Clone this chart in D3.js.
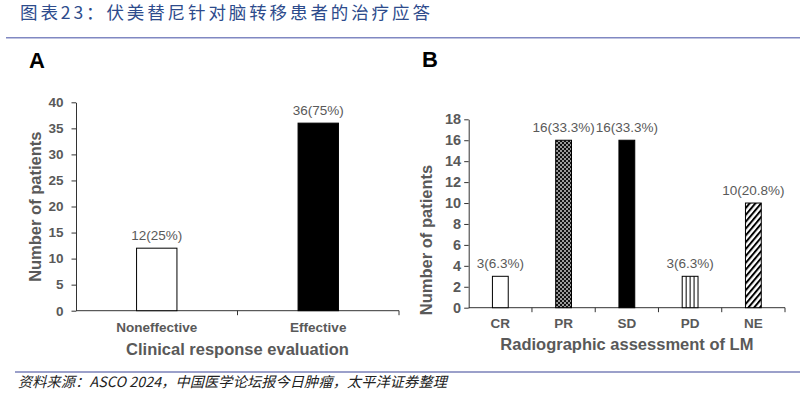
<!DOCTYPE html>
<html>
<head>
<meta charset="utf-8">
<script src="https://cdn.jsdelivr.net/npm/d3@7"></script>
<style>
  body { margin: 0; background: #fff; }
  svg { display: block; }
  text { font-family: "Liberation Sans", Arial, sans-serif; }
</style>
</head>
<body>
<svg id="canvas" width="805" height="399"></svg>
<script>
// panel A data
const catsA = ['Noneffective', 'Effective']
const valsA = [12, 36]
const labelsA = ['12(25%)', '36(75%)']
const ticksA = [0, 5, 10, 15, 20, 25, 30, 35, 40]

// panel B data
const catsB = ['CR', 'PR', 'SD', 'PD', 'NE']
const valsB = [3, 16, 16, 3, 10]
const labelsB = ['3(6.3%)', '16(33.3%)', '16(33.3%)', '3(6.3%)', '10(20.8%)']
const ticksB = [0, 2, 4, 6, 8, 10, 12, 14, 16, 18]

const titleText = '图表23：伏美替尼针对脑转移患者的治疗应答'
const sourceText = '资料来源：ASCO 2024，中国医学论坛报今日肿瘤，太平洋证券整理'

let svg = d3.select('#canvas')
let gray = '#595959'
let axisColor = '#333'

// header + footer
svg.append('text')
    .attr('x', 20).attr('y', 19)
    .style('font-family', '"Noto Sans CJK SC", sans-serif')
    .style('font-size', '17.5px')
    .style('letter-spacing', '2.9px')
    .attr('fill', '#2d4b8c')
    .text(titleText)

svg.append('line')
    .attr('x1', 6).attr('x2', 800).attr('y1', 37.7).attr('y2', 37.7)
    .attr('stroke', '#8088c2').attr('stroke-width', 1.5)

svg.append('line')
    .attr('x1', 15).attr('x2', 800).attr('y1', 372).attr('y2', 372)
    .attr('stroke', '#7a80b8').attr('stroke-width', 1.5)

svg.append('text')
    .attr('x', 18).attr('y', 387)
    .style('font-family', '"Noto Sans CJK SC", sans-serif')
    .style('font-style', 'italic')
    .style('font-size', '14.2px')
    .style('letter-spacing', '0.1px')
    .attr('fill', '#222')
    .text(sourceText)

// patterns
let defs = svg.append('defs')

let pr = defs.append('pattern').attr('id', 'pr')
    .attr('patternUnits', 'userSpaceOnUse').attr('width', 4).attr('height', 4)
pr.append('rect').attr('width', 4).attr('height', 4).attr('fill', '#9a9a9a')
pr.append('rect').attr('width', 2).attr('height', 2).attr('fill', '#111')
pr.append('rect').attr('x', 2).attr('y', 2).attr('width', 2).attr('height', 2).attr('fill', '#111')

let ne = defs.append('pattern').attr('id', 'ne')
    .attr('patternUnits', 'userSpaceOnUse').attr('width', 4.4).attr('height', 10)
    .attr('patternTransform', 'rotate(40)')
ne.append('rect').attr('width', 4.4).attr('height', 10).attr('fill', '#fff')
ne.append('rect').attr('width', 2).attr('height', 10).attr('fill', '#000')

let drawPanel = (opt) => {
    let g = svg.append('g')

    let y = d3.scaleLinear().domain(opt.domain).range([opt.bottom, opt.top])
    let x = d3.scaleBand().domain(opt.cats).range([opt.left, opt.right]).padding(0)
    let bw = x.bandwidth() * 0.25

    // y axis
    let yAxis = d3.axisLeft(y).tickValues(opt.ticks).tickSize(4.5).tickSizeOuter(0).tickPadding(opt.tickPad)
    let ya = g.append('g').attr('transform', 'translate(' + opt.left + ',0)').call(yAxis)
    ya.select('.domain').attr('stroke', axisColor)
    ya.selectAll('.tick line').attr('stroke', axisColor)
    ya.selectAll('.tick text')
        .attr('fill', gray)
        .style('font-size', opt.tickFont)
        .style('font-weight', 'bold')
        .style('font-family', '"Liberation Sans", Arial, sans-serif')

    // x axis line + boundary ticks
    g.append('line')
        .attr('x1', opt.left).attr('x2', opt.right)
        .attr('y1', opt.bottom).attr('y2', opt.bottom)
        .attr('stroke', axisColor)
    g.selectAll('.bt')
        .data(opt.cats)
        .enter()
        .append('line')
        .attr('x1', (d) => x(d) + x.bandwidth())
        .attr('x2', (d) => x(d) + x.bandwidth())
        .attr('y1', opt.bottom).attr('y2', opt.bottom + 4.5)
        .attr('stroke', axisColor)

    // category labels
    g.selectAll('.cl')
        .data(opt.cats)
        .enter()
        .append('text')
        .attr('x', (d) => x(d) + x.bandwidth() / 2)
        .attr('y', opt.bottom + opt.catOffset)
        .attr('text-anchor', 'middle')
        .attr('fill', gray)
        .style('font-size', '13.5px')
        .style('font-weight', 'bold')
        .text((d) => d)

    // bars
    g.selectAll('.bar')
        .data(opt.cats)
        .enter()
        .append('rect')
        .attr('x', (d) => x(d) + x.bandwidth() / 2 - bw / 2)
        .attr('y', (d, i) => y(opt.vals[i]))
        .attr('width', bw)
        .attr('height', (d, i) => y(0) - y(opt.vals[i]))
        .attr('fill', (d) => opt.fills[d] === 'vstripe' ? '#fff' : opt.fills[d])
        .attr('stroke', '#000')
        .attr('stroke-width', 1)

    // vertical stripes for PD are drawn as lines inside the bar
    opt.cats.forEach((c, i) => {
        if (opt.fills[c] !== 'vstripe') return
        let x0 = x(c) + x.bandwidth() / 2 - bw / 2
        for (let k = 1; k < 4; k++) {
            g.append('line')
                .attr('x1', x0 + k * bw / 4).attr('x2', x0 + k * bw / 4)
                .attr('y1', y(opt.vals[i])).attr('y2', y(0))
                .attr('stroke', '#000').attr('stroke-width', 1)
        }
    })

    // value labels
    g.selectAll('.vl')
        .data(opt.cats)
        .enter()
        .append('text')
        .attr('x', (d) => x(d) + x.bandwidth() / 2)
        .attr('y', (d, i) => y(opt.vals[i]) - 8)
        .attr('text-anchor', 'middle')
        .attr('fill', gray)
        .style('font-size', '13.5px')
        .text((d, i) => opt.labels[i])

    // axis titles
    g.append('text')
        .attr('x', (opt.left + opt.right) / 2)
        .attr('y', opt.bottom + opt.titleOffset)
        .attr('text-anchor', 'middle')
        .attr('fill', gray)
        .style('font-size', '16.5px')
        .style('font-weight', 'bold')
        .text(opt.xTitle)

    g.append('text')
        .attr('transform', 'translate(' + opt.yTitleX + ',' + opt.yTitleY + ') rotate(-90)')
        .attr('text-anchor', 'middle')
        .attr('fill', gray)
        .style('font-size', '16.5px')
        .style('font-weight', 'bold')
        .text('Number of patients')

    // panel letter
    g.append('text')
        .attr('x', opt.letterX).attr('y', opt.letterY)
        .attr('fill', '#000')
        .style('font-size', '22px')
        .style('font-weight', 'bold')
        .text(opt.letter)
}

drawPanel({
    cats: catsA, vals: valsA, labels: labelsA, ticks: ticksA,
    domain: [0, 40], left: 76, right: 399, top: 102.3, bottom: 310.7,
    fills: { 'Noneffective': '#fff', 'Effective': '#000' },
    tickFont: '13.5px', tickPad: 8, catOffset: 21, titleOffset: 44,
    xTitle: 'Clinical response evaluation',
    yTitleX: 40.5, yTitleY: 206.7,
    letter: 'A', letterX: 29, letterY: 68.3
})

drawPanel({
    cats: catsB, vals: valsB, labels: labelsB, ticks: ticksB,
    domain: [0, 18], left: 468.7, right: 785, top: 119.3, bottom: 307.7,
    fills: { 'CR': '#fff', 'PR': 'url(#pr)', 'SD': '#000', 'PD': 'vstripe', 'NE': 'url(#ne)' },
    tickFont: '14.5px', tickPad: 3, catOffset: 20.6, titleOffset: 42.3,
    xTitle: 'Radiographic assessment of LM',
    yTitleX: 432, yTitleY: 240,
    letter: 'B', letterX: 422, letterY: 66.7
})
</script>
</body>
</html>
